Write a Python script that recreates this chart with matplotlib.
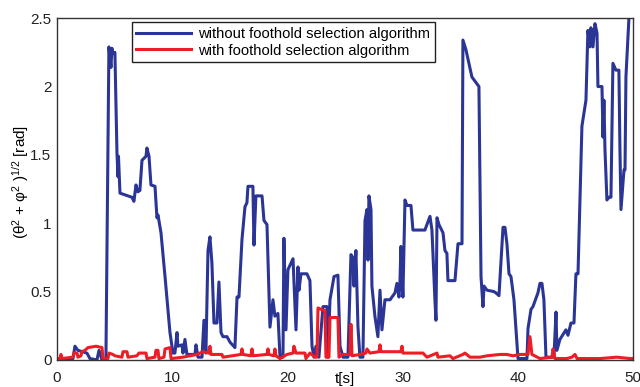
import numpy as np
import matplotlib.pyplot as plt

# time [s] and angle norm [rad]
t_without = [0, 0.78, 1.39, 1.56, 1.82, 2.60, 2.86, 3.47, 3.65, 3.91, 4.25, 4.51, 4.69, 4.77,
             4.86, 5.03, 5.21, 5.30, 5.34, 5.47, 6.51, 6.68, 6.86, 7.03, 7.20, 7.38, 7.73,
             7.81, 7.99, 8.16, 8.51, 8.68, 8.77, 9.03, 9.38, 9.81, 10.07, 10.24, 10.42,
             10.50, 10.85, 10.94, 11.11, 11.28, 11.98, 12.07, 12.24, 12.59, 12.76, 12.93,
             13.11, 13.28, 13.45, 13.63, 13.89, 14.06, 14.24, 14.41, 14.76, 15.02, 15.45,
             15.63, 15.80, 16.06, 16.32, 16.49, 16.58, 17.01, 17.10, 17.27, 17.80, 17.97,
             18.23, 18.49, 18.75, 18.92, 19.18, 19.36, 19.62, 19.70, 19.88, 20.05, 20.49,
             20.75, 20.92, 21.01, 21.18, 21.70, 21.96, 22.14, 22.31, 22.48, 22.74, 23.09,
             23.44, 23.52, 23.70, 24.05, 24.39, 24.57, 24.83, 25.26, 25.52, 25.69, 25.78,
             25.95, 26.13, 26.30, 26.56, 26.74, 26.91, 27.00, 27.08, 27.26, 27.34, 27.60,
             27.86, 28.04, 28.21, 28.47, 28.91, 29.34, 29.51, 29.69, 29.77, 29.86, 30.03,
             30.21, 30.38, 30.73, 30.90, 31.94, 32.38, 32.55, 32.81, 32.90, 32.99, 33.16,
             33.51, 33.68, 33.85, 33.94, 34.55, 34.81, 35.16, 35.24, 35.50, 36.02, 36.63,
             36.81, 36.98, 37.07, 37.33, 37.93, 38.11, 38.37, 38.72, 38.89, 39.06, 39.24,
             39.41, 39.67, 40.02, 40.19, 40.80, 40.89, 41.15, 41.32, 41.75, 41.93, 42.10,
             42.27, 42.45, 42.71, 43.14, 43.32, 43.40, 43.66, 44.18, 44.36, 44.62, 44.88,
             45.05, 45.23, 45.57, 45.92, 46.09, 46.27, 46.35, 46.53, 46.70, 46.88, 46.96,
             47.31, 47.40, 47.48, 47.57, 47.74, 47.92, 48.09, 48.26, 48.52, 48.78, 48.87,
             48.96, 49.22, 49.31, 49.39, 49.65, 49.90]
v_without = [0.01, 0.01, 0.01, 0.10, 0.07, 0.05, 0.01, 0.00, 0.07, 0.00, 0.00, 2.29, 2.14, 2.28,
             2.24, 2.25, 1.51, 1.34, 1.49, 1.22, 1.19, 1.16, 1.28, 1.23, 1.24, 1.46, 1.49,
             1.55, 1.49, 1.28, 1.27, 1.04, 1.06, 0.93, 0.61, 0.20, 0.05, 0.05, 0.20,
             0.10, 0.11, 0.05, 0.15, 0.04, 0.04, 0.11, 0.02, 0.02, 0.29, 0.05,
             0.80, 0.90, 0.71, 0.27, 0.27, 0.57, 0.20, 0.17, 0.17, 0.13, 0.09,
             0.46, 0.46, 0.88, 1.12, 1.15, 1.27, 1.27, 0.84, 1.20, 1.20, 1.02,
             0.99, 0.24, 0.44, 0.32, 0.34, 0.02, 0.02, 0.89, 0.22, 0.66, 0.74,
             0.22, 0.68, 0.51, 0.63, 0.63, 0.58, 0.10, 0.02, 0.10, 0.02, 0.39,
             0.39, 0.02, 0.44, 0.61, 0.62, 0.10, 0.02, 0.02, 0.77, 0.75, 0.54,
             0.80, 0.24, 0.02, 0.02, 1.02, 1.10, 0.73, 1.20, 1.10, 0.54, 0.32,
             0.17, 0.51, 0.22, 0.44, 0.44, 0.49, 0.56, 0.46, 0.56, 0.83, 0.46,
             1.17, 1.13, 1.13, 0.95, 0.95, 1.05, 0.95, 0.44, 0.29, 1.04, 0.99,
             0.93, 0.80, 0.78, 0.58, 0.58, 0.85, 0.85, 2.34, 2.27, 2.07, 2.00,
             0.61, 0.39, 0.54, 0.51, 0.50, 0.49, 0.47, 0.97, 0.97, 0.85, 0.63,
             0.61, 0.44, 0.01, 0.01, 0.01, 0.23, 0.37, 0.39, 0.49, 0.56, 0.56,
             0.44, 0.02, 0.02, 0.02, 0.35, 0.07, 0.15, 0.22, 0.18, 0.27, 0.27,
             0.63, 0.63, 1.71, 1.90, 2.41, 2.29, 2.43, 2.29, 2.46, 2.39, 2.00,
             2.00, 1.63, 1.90, 1.54, 1.17, 1.19, 1.19, 2.17, 2.12, 2.12, 1.54,
             1.10, 1.39, 1.39, 2.07, 2.50, 2.60]

t_with = [0, 0.26, 0.35, 0.43, 1.39, 1.48, 1.74, 1.82, 2.08, 2.17, 2.43, 2.69, 3.39, 3.91,
          3.99, 4.43, 4.51, 4.86, 5.03, 5.64, 5.73, 6.08, 6.16, 6.94, 7.12, 7.73, 7.81,
          8.51, 8.59, 8.77, 8.85, 9.29, 9.38, 9.81, 9.90, 10.94, 12.15, 12.67, 13.19,
          13.28, 13.37, 14.32, 14.41, 15.19, 15.97, 16.06, 16.15, 16.84, 16.93, 17.01,
          18.23, 18.32, 18.40, 18.84, 18.92, 19.01, 19.36, 19.97, 20.49, 20.57, 20.75,
          21.09, 21.53, 21.61, 21.96, 22.40, 22.57, 22.66, 22.92, 23.26, 23.35, 23.61,
          23.70, 24.39, 24.48, 24.83, 25.43, 25.52, 25.61, 26.30, 26.82, 26.91, 27.17,
          27.95, 28.04, 28.13, 28.99, 29.86, 29.95, 30.03, 31.77, 32.12, 32.99, 33.07,
          34.11, 34.38, 35.24, 35.42, 35.85, 36.72, 37.33, 38.46, 39.06, 39.58, 40.19,
          40.89, 41.06, 41.23, 41.93, 42.97, 43.06, 43.23, 44.27, 44.70, 44.97, 45.14,
          46.27, 47.14, 48.61, 49.74, 50]
v_with = [0.01, 0.01, 0.04, 0.01, 0.02, 0.05, 0.05, 0.02, 0.03, 0.06, 0.07, 0.09, 0.10, 0.09,
          0.01, 0.01, 0.05, 0.04, 0.03, 0.02, 0.06, 0.06, 0.02, 0.03, 0.05, 0.05, 0.01,
          0.02, 0.07, 0.07, 0.01, 0.02, 0.08, 0.09, 0.01, 0.02, 0.04, 0.06, 0.05,
          0.10, 0.04, 0.04, 0.02, 0.03, 0.04, 0.08, 0.04, 0.03, 0.08, 0.03,
          0.04, 0.08, 0.04, 0.03, 0.08, 0.03, 0.01, 0.04, 0.05, 0.10, 0.05,
          0.05, 0.05, 0.01, 0.05, 0.02, 0.02, 0.38, 0.37, 0.36, 0.02, 0.02,
          0.31, 0.31, 0.02, 0.04, 0.04, 0.26, 0.03, 0.04, 0.05, 0.08, 0.05,
          0.06, 0.11, 0.06, 0.06, 0.06, 0.10, 0.05, 0.05, 0.02, 0.05, 0.02,
          0.03, 0.01, 0.04, 0.05, 0.02, 0.02, 0.03, 0.04, 0.04, 0.03, 0.04,
          0.04, 0.17, 0.04, 0.01, 0.02, 0.08, 0.01, 0.01, 0.02, 0.04, 0.01,
          0.01, 0.01, 0.02, 0.01, 0.01]

labels = ["without foothold selection algorithm", "with foothold selection algorithm"]

plt.rcParams['font.family'] = ['Liberation Sans', 'DejaVu Sans']
plt.rcParams['mathtext.fontset'] = 'custom'
plt.rcParams['mathtext.rm'] = 'Liberation Sans'
plt.rcParams['mathtext.default'] = 'regular'

fig = plt.figure(figsize=(6.4, 3.87), dpi=100)
ax = fig.add_axes([0.089, 0.070, 0.900, 0.883])

ax.plot(t_without, v_without, color='#2b3595', lw=2.2, label=labels[0])
ax.plot(t_with, v_with, color='#ee1c25', lw=2.2, label=labels[1])

ax.set_xlim(0, 50)
ax.set_ylim(0, 2.5)
ax.set_xticks(np.arange(0, 51, 10))
ax.set_yticks([0, 0.5, 1, 1.5, 2, 2.5])
ax.set_yticklabels(['0', '0.5', '1', '1.5', '2', '2.5'])
ax.tick_params(length=0, labelsize=11, colors='#222222')
ax.tick_params(axis='x', pad=8)
ax.tick_params(axis='y', pad=4)
for s in ax.spines.values():
    s.set_color('#333333')
    s.set_linewidth(1.0)

ax.set_xlabel('t[s]', fontsize=11)
ax.xaxis.set_label_coords(0.5, -0.035)
ax.set_ylabel('(θ$^2$ + φ$^2$ )$^{1/2}$ [rad]', fontsize=11)
ax.yaxis.set_label_coords(-0.045, 0.52)

leg = ax.legend(loc='upper left', bbox_to_anchor=(0.13, 0.988), fontsize=10.6,
                fancybox=False, edgecolor='#222222', framealpha=1, borderaxespad=0,
                handlelength=3.7, borderpad=0.3, labelspacing=0.2, handletextpad=0.5)
leg.get_frame().set_linewidth(1.0)

fig.savefig('out.png', dpi=100)
